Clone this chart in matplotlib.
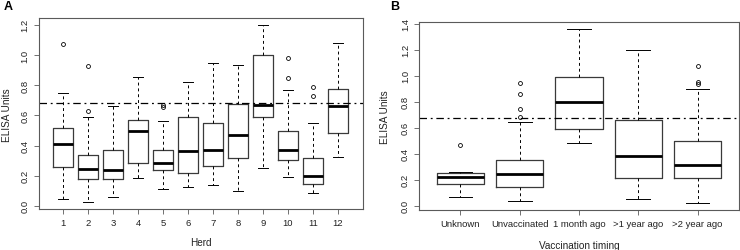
import matplotlib
matplotlib.use("Agg")
import matplotlib.pyplot as plt

plt.rcParams["font.family"] = ["Liberation Sans", "DejaVu Sans"]

# Panel A: ELISA units by herd (five-number summaries)
herds = ["1", "2", "3", "4", "5", "6", "7", "8", "9", "10", "11", "12"]
herd_low = [0.046, 0.024, 0.062, 0.188, 0.110, 0.126, 0.141, 0.097, 0.252, 0.190, 0.086, 0.327]
herd_q1 = [0.259, 0.177, 0.177, 0.283, 0.236, 0.221, 0.261, 0.320, 0.588, 0.301, 0.144, 0.482]
herd_med = [0.413, 0.243, 0.236, 0.495, 0.285, 0.365, 0.371, 0.469, 0.670, 0.373, 0.197, 0.663]
herd_q3 = [0.513, 0.340, 0.369, 0.566, 0.371, 0.592, 0.552, 0.672, 1.001, 0.499, 0.318, 0.776]
herd_high = [0.751, 0.590, 0.661, 0.857, 0.564, 0.818, 0.950, 0.935, 1.196, 0.767, 0.552, 1.078]
herd_out = [[1.076], [0.628, 0.928], [], [], [0.656, 0.667], [], [], [], [],
            [0.846, 0.977], [0.729, 0.787], []]
herd_cutoff = 0.683

# Panel B: ELISA units by vaccination timing
timing = ["Unknown", "Unvaccinated", "1 month ago", ">1 year ago", ">2 year ago"]
vac_low = [0.069, 0.033, 0.485, 0.049, 0.021]
vac_q1 = [0.167, 0.141, 0.588, 0.216, 0.213]
vac_med = [0.218, 0.241, 0.799, 0.383, 0.311]
vac_q3 = [0.249, 0.354, 0.989, 0.663, 0.496]
vac_high = [0.259, 0.647, 1.359, 1.197, 0.894]
vac_out = [[0.467], [0.686, 0.742, 0.863, 0.945], [], [], [0.938, 0.953, 1.076]]
vac_cutoff = 0.675

FS = 6.8
EDGE = "#3a3a3a"
FRAME = "#5a5a5a"


def make_stats(labels, low, q1, med, q3, high, out):
    stats = []
    for i, lab in enumerate(labels):
        stats.append({"label": lab, "whislo": low[i], "q1": q1[i], "med": med[i],
                      "q3": q3[i], "whishi": high[i], "fliers": out[i]})
    return stats


def draw_panel(ax, stats, cutoff, ylim, yticks, xlabel, xlab_y, ylab_x):
    n = len(stats)
    pos = list(range(1, n + 1))
    ax.bxp(stats, positions=pos, widths=0.8, capwidths=0.4,
           boxprops=dict(color=EDGE, linewidth=0.9),
           medianprops=dict(color="black", linewidth=2.0, solid_capstyle="butt"),
           whiskerprops=dict(color="black", linewidth=0.7, linestyle=(0, (3, 3))),
           capprops=dict(color="black", linewidth=0.7),
           flierprops=dict(marker="o", markersize=2.8, markerfacecolor="none",
                           markeredgecolor="black", markeredgewidth=0.6))
    ax.axhline(cutoff, color="black", linewidth=0.9, linestyle=(0, (6, 3, 1.5, 3)))
    pad = n * 0.04
    ax.set_xlim(0.5 - pad, n + 0.5 + pad)
    ax.set_ylim(*ylim)
    ax.set_yticks(yticks)
    ax.set_yticklabels([f"{v:.1f}" for v in yticks])
    ax.set_xticks(pos)
    ax.set_xticklabels([s["label"] for s in stats])
    ax.tick_params(axis="both", labelsize=FS, length=3.5, width=0.6,
                   color=FRAME, labelcolor="#222222", pad=3)
    for lab in ax.get_yticklabels():
        lab.set_rotation(90)
        lab.set_va("center")
    for sp in ax.spines.values():
        sp.set_color(FRAME)
        sp.set_linewidth(0.8)
    ax.set_xlabel(xlabel, fontsize=FS + 0.4, color="#222222", va="center")
    ax.set_ylabel("ELISA Units", fontsize=FS + 0.4, color="#222222", va="center")
    ax.xaxis.set_label_coords(0.5, xlab_y)
    ax.yaxis.set_label_coords(ylab_x, 0.5)


fig = plt.figure(figsize=(7.4, 2.51), dpi=100)
W, H = 740.0, 251.0
axA = fig.add_axes([38.5 / W, (H - 210.2) / H, (362.5 - 38.5) / W, (210.2 - 19.3) / H])
axB = fig.add_axes([419.0 / W, (H - 210.9) / H, (739.0 - 419.0) / W, (210.9 - 23.0) / H])

draw_panel(axA, make_stats(herds, herd_low, herd_q1, herd_med, herd_q3, herd_high, herd_out),
           herd_cutoff, (-0.022, 1.243), [0.0, 0.2, 0.4, 0.6, 0.8, 1.0, 1.2], "Herd",
           -0.172, -0.097)
draw_panel(axB, make_stats(timing, vac_low, vac_q1, vac_med, vac_q3, vac_high, vac_out),
           vac_cutoff, (-0.032, 1.413), [0.0, 0.2, 0.4, 0.6, 0.8, 1.0, 1.2, 1.4],
           "Vaccination timing", -0.187, -0.106)

fig.text(4 / W, 1 - 7 / H, "A", fontsize=9, fontweight="bold", va="center", ha="left")
fig.text(390 / W, 1 - 7 / H, "B", fontsize=9, fontweight="bold", va="center", ha="left")

fig.savefig("out.png", dpi=100)
